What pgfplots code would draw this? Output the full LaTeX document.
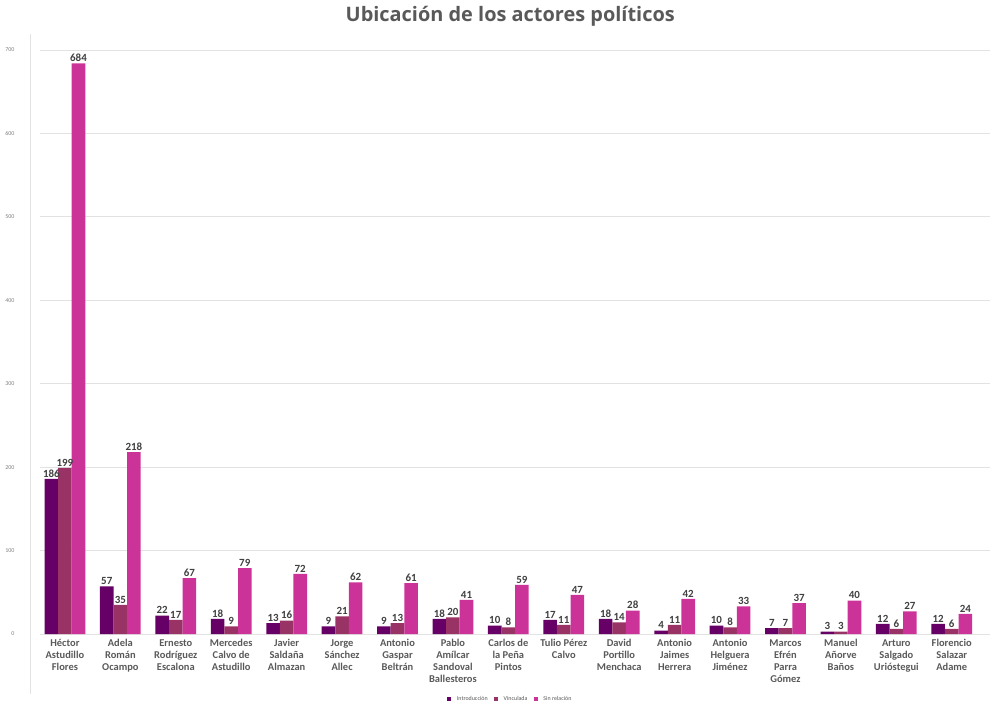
\documentclass[border=0pt]{standalone}
\usepackage{fontspec}
\setmainfont{Carlito}
\newfontfamily\titlefont{Open Sans}
\usepackage{pgfplots}
\pgfplotsset{compat=1.18}
\usepackage{pgfplotstable}
\definecolor{cIntro}{HTML}{660066}
\definecolor{cVinc}{HTML}{993366}
\definecolor{cSin}{HTML}{CC3399}
\definecolor{txt}{HTML}{595959}
\definecolor{lbl}{HTML}{404040}
\definecolor{gridc}{HTML}{E2E2E2}

\pgfplotstableread{
x intro vinc sin
0 186 199 684
1 57 35 218
2 22 17 67
3 18 9 79
4 13 16 72
5 9 21 62
6 9 13 61
7 18 20 41
8 10 8 59
9 17 11 47
10 18 14 28
11 4 11 42
12 10 8 33
13 7 7 37
14 3 3 40
15 12 6 27
16 12 6 24
}\datos

\begin{document}
\begin{tikzpicture}
  % fixes the page size (994 x 704)
  \path (-40bp,-70bp) rectangle (954bp,634bp);
  \draw[gridc] (-10bp,-60bp) -- (-10bp,600bp);
  \begin{axis}[
    scale only axis,
    width=950bp, height=584bp,
    ybar=0pt, bar width=0.245,
    xmin=-0.45, xmax=16.69, ymin=0, ymax=700,
    clip=false,
    /pgf/number format/assume math mode=true,
    axis line style={draw=none},
    major tick length=0pt,
    ymajorgrids, grid style={gridc, line width=0.8pt},
    ytick={0,100,...,700},
    yticklabel style={font=\fontsize{6}{7}\selectfont, text=gray, xshift=-22bp},
    xtick={0,...,16},
    xticklabels={{Héctor\\Astudillo\\Flores},{Adela\\Román\\Ocampo},{Ernesto\\Rodríguez\\Escalona},
      {Mercedes\\Calvo de\\Astudillo},{Javier\\Saldaña\\Almazan},{Jorge\\Sánchez\\Allec},
      {Antonio\\Gaspar\\Beltrán},{Pablo\\Amílcar\\Sandoval\\Ballesteros},{Carlos de\\la Peña\\Pintos},
      {Tulio Pérez\\Calvo},{David\\Portillo\\Menchaca},{Antonio\\Jaimes\\Herrera},
      {Antonio\\Helguera\\Jiménez},{Marcos\\Efrén\\Parra\\Gómez},{Manuel\\Añorve\\Baños},
      {Arturo\\Salgado\\Urióstegui},{Florencio\\Salazar\\Adame}},
    xticklabel style={font=\fontsize{10.5}{12}\selectfont\bfseries, text=txt, align=center, yshift=-2bp},
    nodes near coords,
    nodes near coords style={font=\fontsize{11}{12}\selectfont\bfseries, text=lbl, inner sep=1.5pt},
    title={Ubicación de los actores políticos},
    title style={font=\titlefont\fontsize{20}{24}\selectfont\bfseries, text=txt, at={(rel axis cs:0.495,1)}, anchor=center, yshift=28bp},
    legend columns=3,
    legend style={at={(rel axis cs:0.495,-0.111)}, anchor=center, draw=none,
      font=\fontsize{6}{7}\selectfont, text=txt, column sep=4bp},
    legend image code/.code={\fill[#1] (0bp,-2bp) rectangle (4bp,2bp);},
  ]
    \addplot[fill=cIntro, draw=none] table[x=x, y=intro] {\datos};
    \addplot[fill=cVinc, draw=none] table[x=x, y=vinc] {\datos};
    \addplot[fill=cSin, draw=none] table[x=x, y=sin] {\datos};
    \legend{Introducción, Vinculada, Sin relación}
  \end{axis}
\end{tikzpicture}
\end{document}
